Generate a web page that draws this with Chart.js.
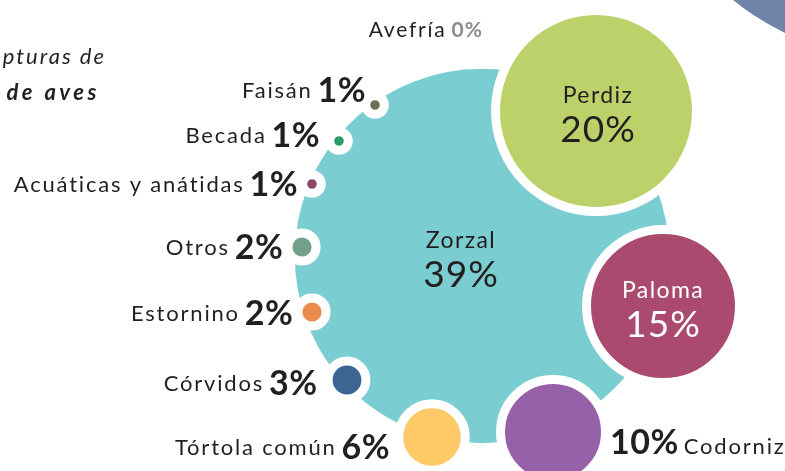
<!DOCTYPE html>
<html>
<head>
<meta charset="utf-8">
<script src="https://cdn.jsdelivr.net/npm/chart.js@4"></script>
<style>
    html, body { margin: 0; padding: 0; background: #fff; }
    #wrap { width: 785px; height: 471px; position: relative; }
</style>
</head>
<body>
<div id="wrap"><canvas id="chart"></canvas></div>
<script>
// Datos: capturas por especie (%)
const species = ['Zorzal', 'Perdiz', 'Paloma', 'Codorniz', 'Tórtola común', 'Córvidos', 'Estornino', 'Otros', 'Acuáticas y anátidas', 'Becada', 'Faisán', 'Avefría'];
const shares = [39, 20, 15, 10, 6, 3, 2, 2, 1, 1, 1, 0];
const colors = ['#7acdd0', '#bdd16a', '#a94a6e', '#9661a8', '#fec966', '#3d6594', '#ea8a4b', '#73a08a', '#8d4566', '#2a9e66', '#6e6e56', '#ffffff'];

// Maquetación de las burbujas (coordenadas del lienzo)
const bubbleX = [482, 596, 663, 553, 432, 347, 312, 302, 312, 339, 375, 494];
const bubbleY = [256, 111, 306, 432, 437, 380, 312, 247, 184, 141, 105, 30];
const labelSide = ['inside', 'inside', 'inside', 'right', 'left', 'left', 'left', 'left', 'left', 'left', 'left', 'left'];
const labelDx = [-21, 2, 0, 9, 13, 15, 9, 9, 9, 14, 4, 11];
const labelDy = [0, 0, 0, 11, 10, 3, 1, 0, 0, -6, -15, 0];

const PX_PER_PCT = 4.8;
const RING = 9;
const INK = '#231f20';
const FONT = 'Lato, "Open Sans", sans-serif';

const bubbleData = species.map((s, i) => ({
    x: bubbleX[i],
    y: bubbleY[i],
    r: shares[i] > 0 ? shares[i] * PX_PER_PCT + RING / 2 : 0
}));

// Círculo decorativo de la esquina y título recortado
const decorPlugin = {
    id: 'decor',
    beforeDatasetsDraw(chart) {
        const ctx = chart.ctx;
        ctx.save();
        ctx.fillStyle = '#7084a8';
        ctx.beginPath();
        ctx.arc(892, -193, 250, 0, Math.PI * 2);
        ctx.fill();

        ctx.fillStyle = INK;
        ctx.textAlign = 'right';
        ctx.textBaseline = 'middle';
        ctx.letterSpacing = '2px';
        ctx.font = 'italic 22px ' + FONT;
        ctx.fillText('Capturas de', 106, 57);
        ctx.letterSpacing = '3.5px';
        ctx.font = 'italic bold 22px ' + FONT;
        ctx.fillText('especies de aves', 100, 93);
        ctx.restore();
    }
};

const labelPlugin = {
    id: 'labels',
    afterDatasetsDraw(chart) {
        const ctx = chart.ctx;
        const meta = chart.getDatasetMeta(0);
        ctx.save();
        ctx.textBaseline = 'alphabetic';
        meta.data.forEach((pt, i) => {
            const r = shares[i] * PX_PER_PCT;
            const pct = shares[i] + '%';
            const side = labelSide[i];
            if (side === 'inside') {
                const cx = pt.x + labelDx[i];
                const light = i === 2;
                ctx.fillStyle = light ? '#ffffff' : INK;
                ctx.textAlign = 'center';
                ctx.letterSpacing = '1.4px';
                ctx.font = '23px ' + FONT;
                ctx.fillText(species[i], cx, pt.y - 8);
                ctx.letterSpacing = '1px';
                ctx.font = '37px ' + FONT;
                ctx.fillText(pct, cx, pt.y + 31);
            } else if (side === 'right') {
                let x = pt.x + r + labelDx[i];
                const y = pt.y + labelDy[i] + 11;
                ctx.fillStyle = INK;
                ctx.textAlign = 'left';
                ctx.letterSpacing = '0.5px';
                ctx.font = 'bold 34px ' + FONT;
                ctx.fillText(pct, x, y);
                x += ctx.measureText(pct).width + 5;
                ctx.letterSpacing = '1.8px';
                ctx.font = '22px ' + FONT;
                ctx.fillText(species[i], x, y);
            } else {
                let x = pt.x - r - labelDx[i];
                const y = pt.y + labelDy[i];
                ctx.textAlign = 'right';
                if (shares[i] === 0) {
                    ctx.letterSpacing = '1px';
                    ctx.font = 'bold 21px ' + FONT;
                    ctx.fillStyle = '#8c8c8c';
                    ctx.fillText(pct, x, y + 7);
                    x -= ctx.measureText(pct).width + 5;
                    ctx.letterSpacing = '1.8px';
                    ctx.font = '21px ' + FONT;
                    ctx.fillStyle = INK;
                    ctx.fillText(species[i], x, y + 7);
                } else {
                    ctx.fillStyle = INK;
                    ctx.letterSpacing = '0.5px';
                    ctx.font = 'bold 34px ' + FONT;
                    ctx.fillText(pct, x, y + 12);
                    x -= ctx.measureText(pct).width + 5;
                    ctx.letterSpacing = '1.8px';
                    ctx.font = '22px ' + FONT;
                    ctx.fillText(species[i], x, y + 8);
                }
            }
        });
        ctx.restore();
    }
};

new Chart(document.getElementById('chart'), {
    type: 'bubble',
    data: {
        datasets: [{
            data: bubbleData,
            backgroundColor: colors,
            borderColor: '#ffffff',
            borderWidth: RING,
            hoverBorderWidth: RING,
            clip: false
        }]
    },
    options: {
        responsive: true,
        maintainAspectRatio: false,
        animation: false,
        layout: { padding: 0, autoPadding: false },
        plugins: { legend: { display: false }, tooltip: { enabled: false } },
        scales: {
            x: { type: 'linear', min: 0, max: 785, display: false },
            y: { type: 'linear', min: 0, max: 471, reverse: true, display: false }
        }
    },
    plugins: [decorPlugin, labelPlugin]
});
</script>
</body>
</html>
